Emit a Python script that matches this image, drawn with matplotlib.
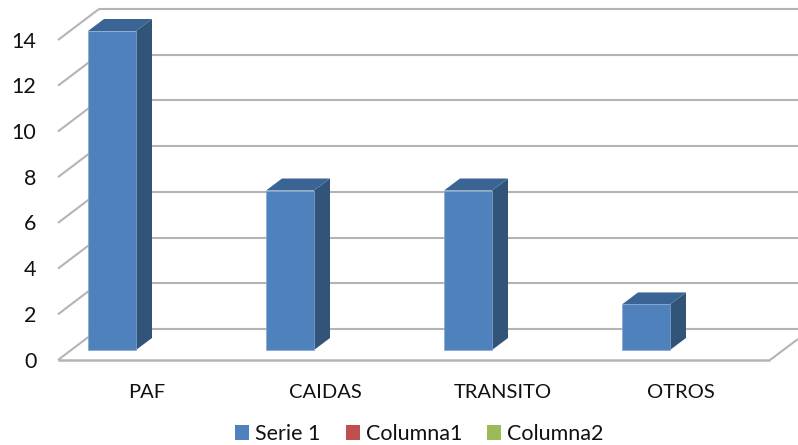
import matplotlib
matplotlib.use("Agg")
import matplotlib.pyplot as plt
from matplotlib.patches import Polygon, Patch

categorias = ["PAF", "CAIDAS", "TRANSITO", "OTROS"]
serie_1 = [14, 7, 7, 2]
nombres_series = ["Serie 1", "Columna1", "Columna2"]
colores_series = ["#4F81BD", "#C0504D", "#9BBB59"]
ticks_y = [0, 2, 4, 6, 8, 10, 12, 14]

W, H = 798, 445
plt.rcParams["font.family"] = ["Lato", "DejaVu Sans"]

fig = plt.figure(figsize=(W / 100, H / 100), dpi=100, facecolor="white")
# plano frontal del grafico, el resto sale fuera de los ejes
ax = fig.add_axes([58 / W, 1 - 360 / H, 712 / W, 320 / H])
ax.set_xlim(0, 4)
ax.set_ylim(0, 14)
ax.axis("off")

px_x = 178.0
px_y = 320 / 14
prof_x = 41 / px_x
prof_y = 31 / px_y
borde_x = 798 / px_x  # hasta el borde de la figura
GRIS = "#B4B4B4"


def linea(xs, ys, lw=1.5):
    ax.plot(xs, ys, color=GRIS, lw=lw, clip_on=False, zorder=1, solid_capstyle="butt")


# rejilla: pared lateral y pared del fondo
for v in ticks_y:
    if v > 0:
        linea([0, prof_x], [v, v + prof_y])
        linea([prof_x, borde_x], [v + prof_y, v + prof_y])
    ax.text(-21.5 / px_x, v - 1.5 / px_y, str(v), ha="right", va="center", fontsize=15.5, color="#111111", clip_on=False)

# suelo
linea([prof_x, borde_x], [prof_y, prof_y])
linea([0, 4], [0, 0], lw=1.8)
linea([0, prof_x], [0, prof_y])
linea([4, 4 + 28 / px_x], [0, 21 / px_y])

# barras en 3d
ancho = 48 / px_x
desp_x = 30 / px_x
base = 10 / px_y
fondo_x = 16 / px_x
fondo_y = 12 / px_y
for i, (cat, val) in enumerate(zip(categorias, serie_1)):
    x0 = i + desp_x
    x1 = x0 + ancho
    y0 = base
    y1 = base + val * (319 / 320)
    lateral = [(x1, y0), (x1 + fondo_x, y0 + fondo_y), (x1 + fondo_x, y1 + fondo_y), (x1, y1)]
    tapa = [(x0, y1), (x1, y1), (x1 + fondo_x, y1 + fondo_y), (x0 + fondo_x, y1 + fondo_y)]
    frente = [(x0, y0), (x1, y0), (x1, y1), (x0, y1)]
    ax.add_patch(Polygon(lateral, facecolor="#325479", edgecolor="none", clip_on=False, zorder=3))
    ax.add_patch(Polygon(tapa, facecolor="#3A6493", edgecolor="none", clip_on=False, zorder=3))
    ax.add_patch(Polygon(frente, facecolor=colores_series[0], edgecolor="#86A8D2", lw=0.5, clip_on=False, zorder=4))
    ax.text(i + 0.5, -33 / px_y, cat, ha="center", va="center", fontsize=14.5, color="#111111", clip_on=False)

# leyenda
manejadores = [Patch(facecolor=c, edgecolor="none", label=n) for c, n in zip(colores_series, nombres_series)]
fig.legend(handles=manejadores, ncol=3, loc="center", bbox_to_anchor=(419.5 / W, 1 - 434 / H), frameon=False,
           fontsize=15.5, handlelength=0.65, handleheight=0.65, handletextpad=0.28, columnspacing=1.16,
           labelcolor="#111111", borderpad=0)

fig.savefig("out.png", dpi=100)
plt.close(fig)
